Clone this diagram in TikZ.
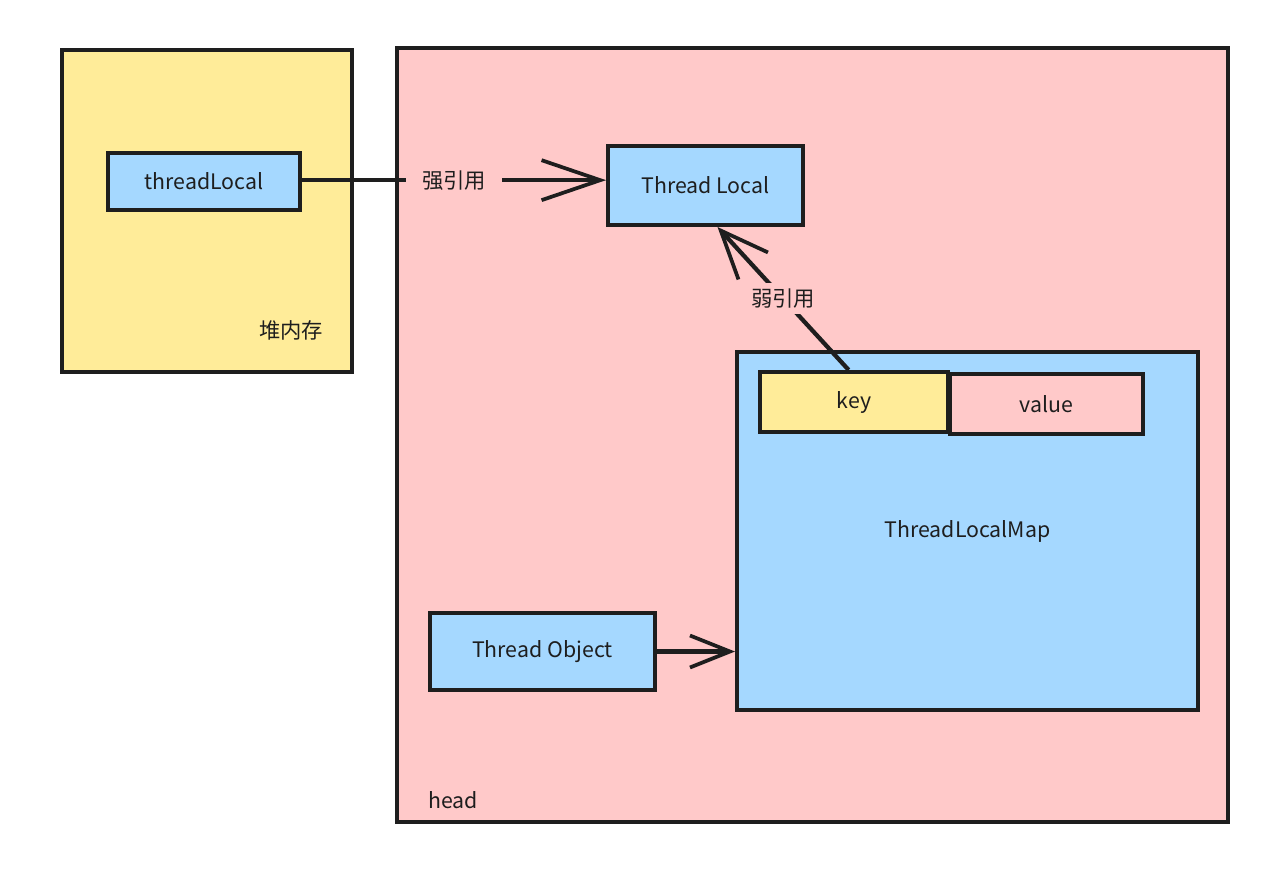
\documentclass[tikz,border=0pt]{standalone}
\usepackage{fontspec}
\setmainfont{Noto Sans CJK SC}
\usetikzlibrary{arrows.meta}
\definecolor{ink}{HTML}{1E1E1E}
\definecolor{yel}{HTML}{FFEC99}
\definecolor{pnk}{HTML}{FFC9C9}
\definecolor{blu}{HTML}{A5D8FF}
\tikzset{
  box/.style={draw=ink, line width=3pt, rectangle, inner sep=0pt, text=ink,
    font=\fontsize{16}{19}\selectfont},
  plain/.style={text=ink, inner sep=0pt, font=\fontsize{16}{19}\selectfont},
  conn/.style={draw=ink, line width=3.2pt},
  lab/.style={fill=pnk, text=ink, font=\fontsize{16}{19}\selectfont, inner ysep=4pt}
}
\begin{document}
\begin{tikzpicture}[x=0.75pt,y=-0.75pt]
\useasboundingbox[fill=white] (0,0) rectangle (1286,893);

% regions
\node[box, fill=pnk, minimum width=623.25pt, minimum height=580.5pt] (head) at (812.5,435) {};
\node[box, fill=yel, minimum width=217.5pt, minimum height=241.5pt] (heap) at (207,211) {};
\node[plain] (heapL) at (291,330) {堆内存};
\node[plain] (headL) at (453,800) {head};

% inner boxes
\node[box, fill=blu, minimum width=144pt, minimum height=42.75pt] (tl) at (204,181.5) {threadLocal};
\node[box, fill=blu, minimum width=146.25pt, minimum height=59.25pt] (TL) at (705.5,185.5) {Thread Local};
\node[box, fill=blu, minimum width=345.75pt, minimum height=268.5pt] (map) at (967.5,531) {ThreadLocalMap};
\node[box, fill=yel, minimum width=141pt, minimum height=45pt] (key) at (854,402) {key};
\node[box, fill=pnk, minimum width=144.75pt, minimum height=45pt] (val) at (1046.5,404) {value};
\node[box, fill=blu, minimum width=168.75pt, minimum height=57.75pt] (TO) at (542.5,651.5) {Thread Object};

% connectors
\draw[conn, -{Straight Barb[length=44pt,width=30pt,line width=2.8pt]}]
  ([yshift=1pt]tl.east) -- node[lab, inner xsep=12pt] {强引用} ([yshift=1pt]tl.east -| TL.west);
\draw[conn, -{Straight Barb[length=36pt,width=30pt,line width=2.8pt]}]
  ([xshift=-4pt]key.north) -- node[lab, inner xsep=4pt] {弱引用} ([xshift=9pt]TL.south);
\draw[conn, -{Straight Barb[length=30pt,width=24pt,line width=2.8pt]}]
  (TO.east) -- (TO.east -| map.west);
\end{tikzpicture}
\end{document}
